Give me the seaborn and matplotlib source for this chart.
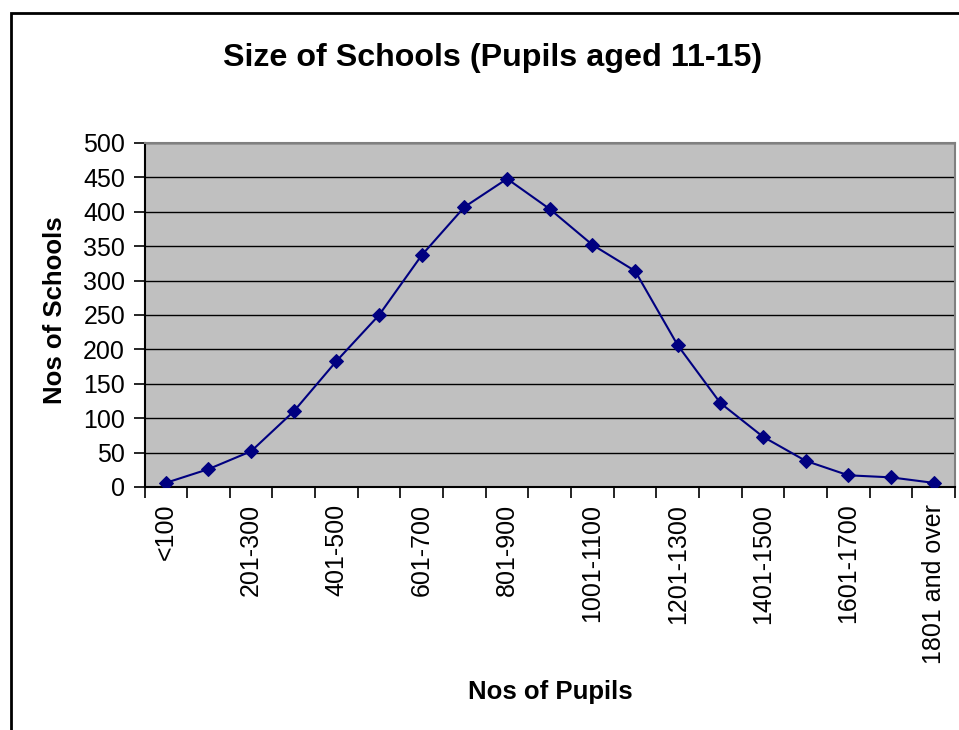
import matplotlib
matplotlib.use("Agg")
import matplotlib.pyplot as plt
import matplotlib.patches as mpatches
import seaborn as sns
import pandas as pd
import numpy as np

categories = ["<100", "101-200", "201-300", "301-400", "401-500", "501-600",
              "601-700", "701-800", "801-900", "901-1000", "1001-1100",
              "1101-1200", "1201-1300", "1301-1400", "1401-1500",
              "1501-1600", "1601-1700", "1701-1800", "1801 and over"]
schools = [6, 26, 52, 110, 183, 250, 337, 407, 448, 404, 352, 314, 206,
           122, 73, 38, 17, 14, 6]
y_ticks = [0, 50, 100, 150, 200, 250, 300, 350, 400, 450, 500]

sns.set_style("white")
plt.rcParams["font.family"] = ["Liberation Sans", "DejaVu Sans"]
plt.rcParams["text.color"] = "black"
plt.rcParams["axes.labelcolor"] = "black"
plt.rcParams["xtick.color"] = "black"
plt.rcParams["ytick.color"] = "black"

df = pd.DataFrame({"size": categories, "schools": schools})

fig = plt.figure(figsize=(9.59, 7.30), dpi=100)
W, H = 959, 730
ax = fig.add_axes([144.5 / W, 1 - 487 / H, (955 - 144.5) / W, (487 - 143) / H])
ax.set_facecolor("#c0c0c0")

sns.lineplot(data=df, x="size", y="schools", sort=False, ax=ax,
             color="#000080", linewidth=1.5, marker="D", markersize=7.5,
             markeredgecolor="#000080", zorder=3)

n = len(categories)
ax.set_xlim(-0.5, n - 0.5)
ax.set_ylim(0, 500)

# y axis
ax.set_yticks(y_ticks)
ax.set_yticklabels([str(v) for v in y_ticks], fontsize=18, color="black")
ax.grid(axis="y", color="black", linewidth=1.0, zorder=1)
ax.grid(axis="x", visible=False)

# x axis: ticks at boundaries, labels on every other category
ax.set_xticks(np.arange(-0.5, n, 1.0))
ax.set_xticklabels([])
ax.set_xticks(np.arange(0, n, 2), minor=True)
ax.set_xticklabels([categories[i] for i in range(0, n, 2)], minor=True,
                   rotation=90, fontsize=18, color="black")
ax.tick_params(axis="x", which="major", length=8, width=1.2, color="black",
               direction="out")
ax.tick_params(axis="x", which="minor", length=0, pad=12)
ax.tick_params(axis="y", length=8, width=1.2, color="black", direction="out",
               pad=6)
ax.xaxis.set_ticks_position("bottom")
ax.yaxis.set_ticks_position("left")

for side in ["left", "bottom"]:
    ax.spines[side].set_color("black")
    ax.spines[side].set_linewidth(1.5)
for side in ["top", "right"]:
    ax.spines[side].set_color("#808080")
    ax.spines[side].set_linewidth(1.5)
    ax.spines[side].set_visible(True)

ax.set_xlabel("Nos of Pupils", fontsize=18.5, fontweight="bold", color="black")
ax.set_ylabel("Nos of Schools", fontsize=18.5, fontweight="bold", color="black")
ax.xaxis.label.set_va("center")
ax.yaxis.label.set_va("center")
ax.xaxis.set_label_coords((550 - 144.5) / 810.5, (487 - 692) / 344)
ax.yaxis.set_label_coords((55 - 144.5) / 810.5, (487 - 310) / 344)

ax.set_title("Size of Schools (Pupils aged 11-15)", fontsize=23.2,
             fontweight="bold", color="black",
             x=(493 - 144.5) / 810.5, y=(487 - 66) / 344, va="center")

# chart-area border (extends beyond right/bottom edges)
border = mpatches.Rectangle((11 / W, -0.05), 1.1, 1 - 13 / H + 0.05,
                            transform=fig.transFigure, fill=False,
                            edgecolor="black", linewidth=2.0, clip_on=False)
fig.patches.append(border)

fig.savefig("out.png", dpi=100, facecolor="white")
